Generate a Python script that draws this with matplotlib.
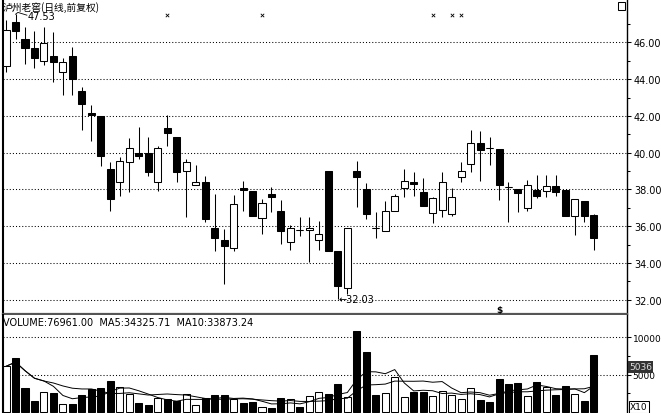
import numpy as np
import pandas as pd
import matplotlib
matplotlib.use("Agg")
import matplotlib.pyplot as plt
from matplotlib.patches import Rectangle

plt.rcParams['font.family'] = ['DejaVu Sans', 'Noto Sans CJK SC']

title = "泸州老窖(日线,前复权)"

opens = [44.73, 47.12, 46.18, 45.67, 44.97, 45.27, 44.37, 45.24, 43.37, 42.14,
         42.00, 39.10, 38.38, 39.50, 39.96, 39.96, 38.38, 41.34, 40.86, 38.98,
         38.24, 38.38, 35.88, 35.26, 34.79, 38.07, 37.89, 36.42, 37.75, 36.80,
         35.12, 35.80, 35.79, 35.23, 38.98, 34.63, 32.63, 38.98, 38.02, 35.88,
         35.75, 36.80, 38.07, 38.42, 37.87, 36.71, 36.88, 36.66, 38.65, 39.38,
         40.50, 40.25, 40.19, 38.14, 38.02, 36.97, 37.96, 37.93, 38.17, 37.96,
         36.57, 37.35, 36.60]
highs = [47.23, 47.53, 46.82, 46.63, 46.82, 46.54, 45.15, 45.73, 43.55, 42.60,
         42.00, 39.50, 39.74, 40.79, 41.41, 40.86, 40.37, 42.04, 40.86, 39.65,
         39.32, 38.74, 37.75, 35.84, 37.69, 38.47, 37.89, 37.47, 38.11, 37.44,
         36.08, 36.48, 36.48, 36.29, 38.98, 34.63, 35.88, 39.52, 38.34, 36.75,
         37.38, 37.75, 39.10, 38.92, 38.60, 37.57, 38.93, 38.07, 39.47, 41.23,
         41.16, 40.86, 40.19, 38.42, 38.02, 38.51, 38.80, 38.80, 38.80, 37.96,
         37.47, 37.35, 36.66]
lows = [44.38, 46.18, 44.82, 44.59, 44.78, 43.82, 43.15, 43.15, 41.24, 40.65,
        39.30, 36.80, 37.62, 37.84, 39.65, 38.74, 37.93, 40.37, 38.38, 36.48,
        38.24, 36.21, 34.63, 32.85, 34.63, 36.84, 36.57, 35.57, 36.78, 35.03,
        34.72, 35.48, 34.03, 34.72, 34.63, 32.03, 32.31, 37.02, 36.39, 35.34,
        35.75, 36.80, 37.58, 37.65, 37.08, 36.17, 36.48, 36.53, 38.38, 38.96,
        38.47, 39.34, 37.42, 36.21, 36.75, 36.84, 37.53, 37.57, 37.65, 36.57,
        35.52, 36.24, 34.72]
closes = [46.67, 46.63, 45.67, 45.13, 45.98, 44.94, 44.91, 44.00, 42.64, 42.05,
          39.83, 37.47, 39.56, 40.23, 39.83, 38.93, 40.23, 41.05, 38.93, 39.50,
          38.38, 36.39, 35.34, 34.93, 37.20, 37.96, 36.57, 37.24, 37.60, 35.75,
          35.88, 35.80, 35.88, 35.55, 34.63, 32.72, 35.88, 38.65, 36.66, 35.88,
          36.80, 37.65, 38.43, 38.29, 37.08, 37.51, 38.38, 37.57, 38.98, 40.50,
          40.16, 40.25, 38.25, 38.14, 37.78, 38.25, 37.62, 38.17, 37.87, 36.57,
          37.47, 36.53, 35.34]
# volume in axis units (x10 shown on chart)
volumes = [6123, 7233, 3262, 1484, 2687, 2554, 1123, 1083, 2286, 3089,
           3182, 4158, 3316, 2380, 1217, 989, 1845, 1751, 1484, 2460,
           949, 1845, 2286, 2286, 1751, 1177, 1310, 722, 508, 1845,
           1751, 682, 2193, 2727, 2420, 3757, 1979, 10883, 7995, 2286,
           2514, 4733, 1979, 2647, 2727, 2193, 2861, 2286, 1751, 3182,
           1618, 1310, 4359, 3757, 3824, 2219, 4024, 3289, 2286, 3556,
           2353, 1524, 7696]

event_idx = [17, 27, 45, 47, 48]
dividend_idx = 52
price_ticks = [32, 34, 36, 38, 40, 42, 44, 46]
vol_ticks = [5000, 10000]

W, H = 661, 414
fig = plt.figure(figsize=(W / 100, H / 100), dpi=100)
ax = fig.add_axes([3 / W, (H - 315) / H, 624 / W, 315 / H])
axv = fig.add_axes([3 / W, 0, 624 / W, 98 / H], sharex=ax)

o = np.array(opens); c = np.array(closes)
hi = np.array(highs); lo = np.array(lows)
x = np.arange(len(o))
up = c > o
lw = 0.75
bw = 0.74

# price candles
ax.vlines(x, lo, hi, color='black', lw=lw, zorder=2)
body_lo = np.minimum(o, c)
body_h = np.abs(c - o)
ax.bar(x[up], body_h[up], bottom=body_lo[up], width=bw, facecolor='white',
       edgecolor='black', lw=lw, zorder=3)
ax.bar(x[~up], body_h[~up], bottom=body_lo[~up], width=bw, facecolor='black',
       edgecolor='black', lw=lw, zorder=3)
flat = body_h < 0.02
ax.hlines(o[flat], x[flat] - bw / 2, x[flat] + bw / 2, color='black', lw=lw, zorder=3)

ax.set_xlim(-0.32, 65.5)
ax.set_ylim(31.22, 48.36)
ax.set_yticks(price_ticks)
ax.set_yticks(np.arange(33, 48, 2), minor=True)
ax.yaxis.tick_right()
ax.yaxis.set_major_formatter(matplotlib.ticker.FormatStrFormatter('%.2f'))
ax.tick_params(axis='y', which='major', length=3, width=0.75, pad=2, labelsize=7)
ax.tick_params(axis='y', which='minor', length=2, width=0.75)
ax.tick_params(axis='x', bottom=False, labelbottom=False)
ax.grid(axis='y', color='black', lw=0.75, linestyle=(0, (1, 2)))
ax.set_axisbelow(True)
ax.spines['top'].set_visible(False)
ax.spines['left'].set_linewidth(1.5)
ax.spines['right'].set_linewidth(1)
ax.spines['bottom'].set_linewidth(1.6)
ax.spines['bottom'].set_color('#555555')

ax.text(0.0, 0.995, title, transform=ax.transAxes, ha='left', va='top',
        fontsize=7, family=['Noto Sans CJK SC', 'DejaVu Sans'])
ax.plot([1, 1.25, 2.2], [highs[1], highs[1] + 0.1, highs[1] - 0.05], color='black', lw=0.6)
ax.text(2.3, highs[1] - 0.08, "%.2f" % highs[1], fontsize=7, va='center', ha='left')
imin = int(np.argmin(lo))
ax.text(imin + 0.1, lo[imin], "\u2190%.2f" % lo[imin], fontsize=7, va='center', ha='left')
ax.scatter(event_idx, [47.5] * len(event_idx), marker='x', s=6, color='black', lw=0.6)
ax.text(dividend_idx, 31.45, "$", fontsize=6.5, ha='center', va='center', fontweight='bold')

# volume
vol = np.array(volumes, dtype=float)
axv.bar(x[up], vol[up], width=bw, facecolor='white', edgecolor='black', lw=lw)
axv.bar(x[~up], vol[~up], width=bw, facecolor='black', edgecolor='black', lw=lw)
ma5 = pd.Series(vol).rolling(5, min_periods=1).mean()
ma10 = pd.Series(vol).rolling(10, min_periods=1).mean()
axv.plot(x, ma5, color='black', lw=0.7)
axv.plot(x, ma10, color='black', lw=0.7)
axv.set_ylim(-120, 12980)
axv.set_yticks(vol_ticks)
axv.set_yticks([2500, 7500], minor=True)
axv.yaxis.tick_right()
axv.yaxis.set_major_formatter(matplotlib.ticker.FormatStrFormatter('%d'))
axv.tick_params(axis='y', which='major', length=3, width=0.75, pad=1, labelsize=6.5)
axv.tick_params(axis='y', which='minor', length=2, width=0.75)
axv.tick_params(axis='x', bottom=False, labelbottom=False)
axv.grid(axis='y', color='black', lw=0.75, linestyle=(0, (1, 2)))
axv.set_axisbelow(True)
axv.spines['top'].set_visible(False)
axv.spines['bottom'].set_visible(False)
axv.spines['left'].set_linewidth(1.5)
axv.spines['right'].set_linewidth(1)

axv.text(0.0, 0.98, "VOLUME:%.2f  MA5:%.2f  MA10:%.2f" % (76961.00, 34325.71, 33873.24),
         transform=axv.transAxes, ha='left', va='top', fontsize=7)

fig.text(629 / W, 1 - 368 / H, "5036", fontsize=6.5, color='#dddddd', va='center', ha='left',
         bbox=dict(boxstyle='square,pad=0.15', facecolor='#333333', edgecolor='none'))
fig.text(630 / W, 1 - 408 / H, "X10", fontsize=6.5, va='center', ha='left',
         bbox=dict(boxstyle='square,pad=0.15', facecolor='white', edgecolor='black', lw=0.75))
fig.patches.append(Rectangle((618 / W, 1 - 11 / H), 7 / W, 8 / H, transform=fig.transFigure,
                             facecolor='white', edgecolor='black', lw=0.75))

fig.savefig("out.png", dpi=100)
